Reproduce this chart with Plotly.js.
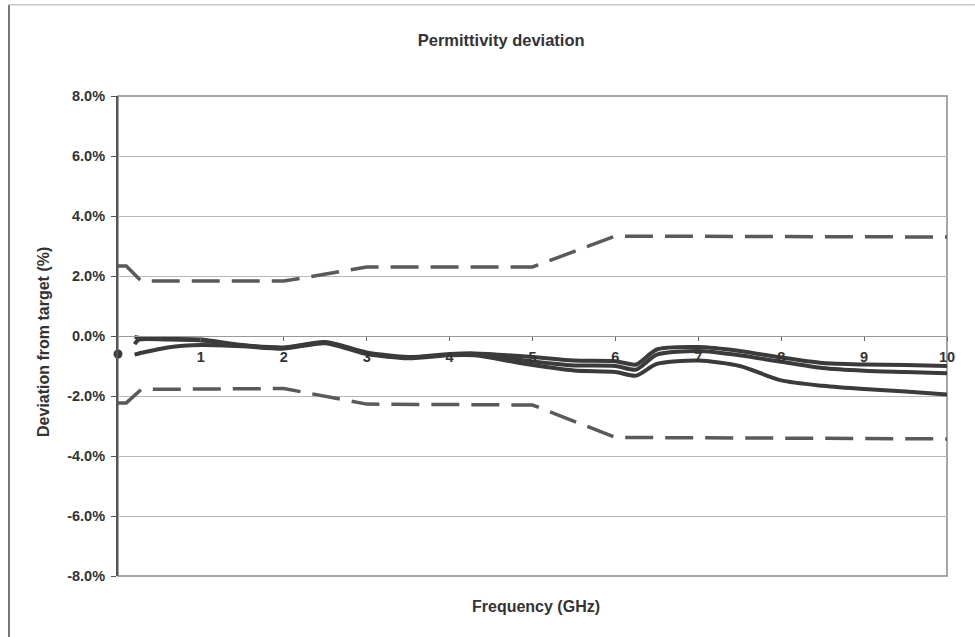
<!DOCTYPE html>
<html>
<head>
<meta charset="utf-8">
<script src="https://cdn.plot.ly/plotly-3.0.1.min.js"></script>
<style>html,body{margin:0;padding:0;background:#fff;}#chart{width:975px;height:637px;}</style>
</head>
<body>
<div id="chart"></div>
<script>
// Frequency (GHz) sample points and deviation (%) values
const freqA = [0.2, 0.3, 0.6, 1.0, 1.5, 2.0, 2.5, 3.0, 3.5, 4.0, 4.3, 5.0, 5.5, 6.0, 6.25, 6.5, 7.0, 7.5, 8.0, 8.5, 9.0, 9.5, 10];
const devTop = [-0.03, -0.08, -0.1, -0.12, -0.3, -0.38, -0.2, -0.55, -0.7, -0.6, -0.58, -0.7, -0.82, -0.84, -0.95, -0.45, -0.37, -0.5, -0.72, -0.9, -0.95, -0.97, -1.0];
const freqB = [0.2, 0.25, 0.6, 1.0, 1.5, 2.0, 2.5, 3.0, 3.5, 4.0, 4.3, 5.0, 5.5, 6.0, 6.25, 6.5, 7.0, 7.5, 8.0, 8.5, 9.0, 9.5, 10];
const devMid = [-0.27, -0.12, -0.12, -0.15, -0.32, -0.4, -0.22, -0.57, -0.72, -0.62, -0.6, -0.85, -0.98, -1.0, -1.12, -0.62, -0.5, -0.64, -0.86, -1.07, -1.16, -1.2, -1.24];
const devLow = [-0.62, -0.55, -0.38, -0.3, -0.34, -0.42, -0.24, -0.6, -0.74, -0.64, -0.64, -0.97, -1.15, -1.2, -1.32, -0.93, -0.82, -1.0, -1.48, -1.66, -1.77, -1.85, -1.95];
const limitFreq = [0, 0.1, 0.28, 2.0, 3.0, 5.0, 6.0, 10];
const upperLimit = [2.33, 2.33, 1.83, 1.83, 2.3, 2.3, 3.33, 3.3];
const lowerLimit = [-2.23, -2.23, -1.78, -1.75, -2.27, -2.3, -3.38, -3.43];
const markerFreq = [0];
const markerDev = [-0.6];
const yTickVals = [-8, -6, -4, -2, 0, 2, 4, 6, 8];
const yTickText = ['-8.0%', '-6.0%', '-4.0%', '-2.0%', '0.0%', '2.0%', '4.0%', '6.0%', '8.0%'];
const xTickVals = [1, 2, 3, 4, 5, 6, 7, 8, 9, 10];
const xTickText = ['1', '2', '3', '4', '5', '6', '7', '8', '9', '10'];

const FONT = 'Liberation Sans, Arial, sans-serif';
const lineDark = '#3b3b3b';
const dashGray = '#5a5a5a';

const traces = [
  {x: limitFreq, y: upperLimit, mode: 'lines', line: {color: dashGray, width: 3.5, dash: '28px,12px'}, hoverinfo: 'skip'},
  {x: limitFreq, y: lowerLimit, mode: 'lines', line: {color: dashGray, width: 3.5, dash: '28px,12px'}, hoverinfo: 'skip'},
  {x: freqA, y: devTop, mode: 'lines', line: {color: lineDark, width: 4, shape: 'spline', smoothing: 0.7}},
  {x: freqB, y: devMid, mode: 'lines', line: {color: lineDark, width: 4, shape: 'spline', smoothing: 0.7}},
  {x: freqA, y: devLow, mode: 'lines', line: {color: lineDark, width: 4, shape: 'spline', smoothing: 0.7}},
  {x: markerFreq, y: markerDev, mode: 'markers', marker: {color: lineDark, size: 9, symbol: 'circle'}, cliponaxis: false}
];

const layout = {
  width: 975, height: 637,
  margin: {l: 118, r: 28, t: 96, b: 61},
  paper_bgcolor: '#ffffff', plot_bgcolor: '#ffffff',
  showlegend: false,
  font: {family: FONT, color: '#333333'},
  title: {text: '<b>Permittivity deviation</b>', font: {family: FONT, size: 16.5, color: '#333'}, xref: 'container', x: 0.514, xanchor: 'center', yref: 'container', y: 1 - 40/637, yanchor: 'middle'},
  xaxis: {
    range: [0, 10], anchor: 'free', position: 0.5,
    tickvals: xTickVals, ticktext: xTickText,
    tickfont: {family: FONT, size: 14.5, color: '#333', weight: 'bold'},
    showgrid: false, zeroline: false,
    showline: true, linecolor: '#999', linewidth: 1,
    ticks: 'outside', ticklen: 4, tickcolor: '#666', tickwidth: 1,
    ticklabelstandoff: 4
  },
  yaxis: {
    range: [-8, 8],
    tickvals: yTickVals, ticktext: yTickText,
    tickfont: {family: FONT, size: 14.5, color: '#333', weight: 'bold'},
    showgrid: true, gridcolor: '#b8b8b8', gridwidth: 1,
    zeroline: false,
    showline: true, linecolor: '#555', linewidth: 2,
    ticks: 'outside', ticklen: 5, tickcolor: '#555', tickwidth: 1,
    ticklabelstandoff: 3
  },
  shapes: [
    {type: 'rect', xref: 'paper', yref: 'paper', x0: 0, x1: 1, y0: 0, y1: 1, line: {color: '#8a8a8a', width: 1.5}, layer: 'below'},
    {type: 'line', xref: 'paper', yref: 'paper', x0: -0.1315, x1: -0.1315, y0: 1.19, y1: -0.14, line: {color: '#777', width: 2}},
    {type: 'line', xref: 'paper', yref: 'paper', x0: -0.1315, x1: 1.04, y0: 1.19, y1: 1.19, line: {color: '#c8c8c8', width: 1.5}}
  ],
  annotations: [
    {text: '<b>Deviation from target (%)</b>', xref: 'paper', yref: 'paper', x: -0.0905, y: 0.4875, xanchor: 'center', yanchor: 'middle', textangle: -90, showarrow: false, font: {family: FONT, size: 16, color: '#333'}},
    {text: '<b>Frequency (GHz)</b>', xref: 'paper', yref: 'paper', x: 0.504, y: -0.0625, xanchor: 'center', yanchor: 'middle', showarrow: false, font: {family: FONT, size: 16, color: '#333'}}
  ]
};

Plotly.newPlot('chart', traces, layout, {displayModeBar: false, staticPlot: true});
</script>
</body>
</html>
